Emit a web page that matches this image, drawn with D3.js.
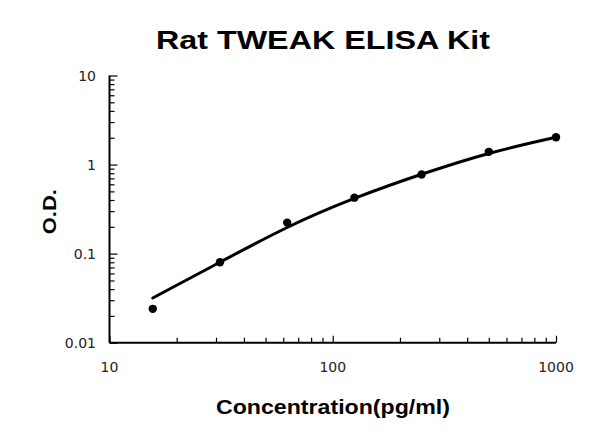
<!DOCTYPE html>
<html>
<head>
<meta charset="utf-8">
<script src="https://cdn.jsdelivr.net/npm/d3@7/dist/d3.min.js"></script>
<style>
  html, body { margin: 0; padding: 0; background: #fff; }
  svg { display: block; }
</style>
</head>
<body>
<div id="chart"></div>
<script>
// standard concentrations (pg/ml) and measured O.D.
const concentration = [15.625, 31.25, 62.5, 125, 250, 500, 1000];
const odValues = [0.024, 0.080, 0.223, 0.425, 0.773, 1.39, 2.03];
// fitted curve at the same concentrations
const fitValues = [0.0318, 0.080, 0.203, 0.425, 0.785, 1.37, 2.03];

const xTickValues = [10, 100, 1000];
const yTickValues = [0.01, 0.1, 1, 10];
const yTickLabels = ['0.01', '0.1', '1', '10'];

const titleText = 'Rat TWEAK ELISA Kit';
const xTitle = 'Concentration(pg/ml)';
const yTitle = 'O.D.';

const width = 600, height = 439;
const margin = {left: 109.5, right: 44, top: 75.5, bottom: 96.3};

const svg = d3.select('#chart').append('svg')
    .attr('width', width)
    .attr('height', height);

const x = d3.scaleLog()
    .domain([10, 1000])
    .range([margin.left, width - margin.right]);

const y = d3.scaleLog()
    .domain([0.01, 10])
    .range([height - margin.bottom, margin.top]);

// minor ticks: 2..9 in every decade
function minorTicks(lo, hi) {
    const out = [];
    for (let d = lo; d < hi; d *= 10) {
        for (let k = 2; k <= 9; k++) out.push(d * k);
    }
    return out;
}

const axisColor = '#000';
const tickFont = '"DejaVu Sans", Verdana, sans-serif';

// x axis (ticks point up, inside the plot)
const gx = svg.append('g')
    .attr('transform', `translate(0,${y(0.01)})`);
gx.call(d3.axisTop(x).tickValues(xTickValues).tickSize(7).tickFormat(''))
    .call(g => g.select('.domain').remove());
gx.append('g')
    .call(d3.axisTop(x).tickValues(minorTicks(10, 1000)).tickSize(5).tickFormat(''))
    .call(g => g.select('.domain').remove());
gx.selectAll('line').attr('stroke', axisColor).attr('stroke-width', 1.2);
gx.append('line')
    .attr('x1', x(10)).attr('x2', x(1000))
    .attr('stroke', axisColor).attr('stroke-width', 2);

svg.append('g')
    .selectAll('text')
    .data(xTickValues)
    .join('text')
    .attr('x', d => x(d))
    .attr('y', y(0.01) + 29)
    .attr('text-anchor', 'middle')
    .style('font-family', tickFont)
    .style('font-size', '14px')
    .attr('fill', '#222')
    .text(d => d);

// y axis (ticks point right, inside the plot)
const gy = svg.append('g')
    .attr('transform', `translate(${x(10)},0)`);
gy.call(d3.axisRight(y).tickValues(yTickValues).tickSize(8).tickFormat(''))
    .call(g => g.select('.domain').remove());
gy.append('g')
    .call(d3.axisRight(y).tickValues(minorTicks(0.01, 10)).tickSize(5).tickFormat(''))
    .call(g => g.select('.domain').remove());
gy.selectAll('line').attr('stroke', axisColor).attr('stroke-width', 1.2);
gy.append('line')
    .attr('y1', y(10)).attr('y2', y(0.01))
    .attr('stroke', axisColor).attr('stroke-width', 2);

svg.append('g')
    .selectAll('text')
    .data(yTickValues)
    .join('text')
    .attr('x', x(10) - 13.5)
    .attr('y', d => y(d))
    .attr('dy', '0.36em')
    .attr('text-anchor', 'end')
    .style('font-family', tickFont)
    .style('font-size', '14px')
    .attr('fill', '#222')
    .text((d, i) => yTickLabels[i]);

// fitted curve
const fitData = concentration.map((c, i) => ({c: c, v: fitValues[i]}));
svg.append('path')
    .datum(fitData)
    .attr('fill', 'none')
    .attr('stroke', '#000')
    .attr('stroke-width', 3)
    .attr('stroke-linecap', 'round')
    .attr('d', d3.line()
        .x(d => x(d.c))
        .y(d => y(d.v))
        .curve(d3.curveBasis));

// standard points
svg.append('g')
    .selectAll('circle')
    .data(concentration)
    .join('circle')
    .attr('cx', d => x(d))
    .attr('cy', (d, i) => y(odValues[i]))
    .attr('r', 4.2)
    .attr('fill', '#000');

// titles
svg.append('text')
    .attr('x', 323)
    .attr('y', 49)
    .attr('text-anchor', 'middle')
    .attr('textLength', 334)
    .attr('lengthAdjust', 'spacingAndGlyphs')
    .style('font-family', '"Liberation Sans", Arial, sans-serif')
    .style('font-weight', 'bold')
    .style('font-size', '25px')
    .text(titleText);

svg.append('text')
    .attr('x', 333)
    .attr('y', 413.5)
    .attr('text-anchor', 'middle')
    .attr('textLength', 234)
    .attr('lengthAdjust', 'spacingAndGlyphs')
    .style('font-family', '"Liberation Sans", Arial, sans-serif')
    .style('font-weight', 'bold')
    .style('font-size', '20px')
    .text(xTitle);

svg.append('text')
    .attr('transform', 'translate(56,211.7) rotate(-90)')
    .attr('text-anchor', 'middle')
    .attr('textLength', 45)
    .attr('lengthAdjust', 'spacingAndGlyphs')
    .style('font-family', '"Liberation Sans", Arial, sans-serif')
    .style('font-weight', 'bold')
    .style('font-size', '19px')
    .text(yTitle);
</script>
</body>
</html>
